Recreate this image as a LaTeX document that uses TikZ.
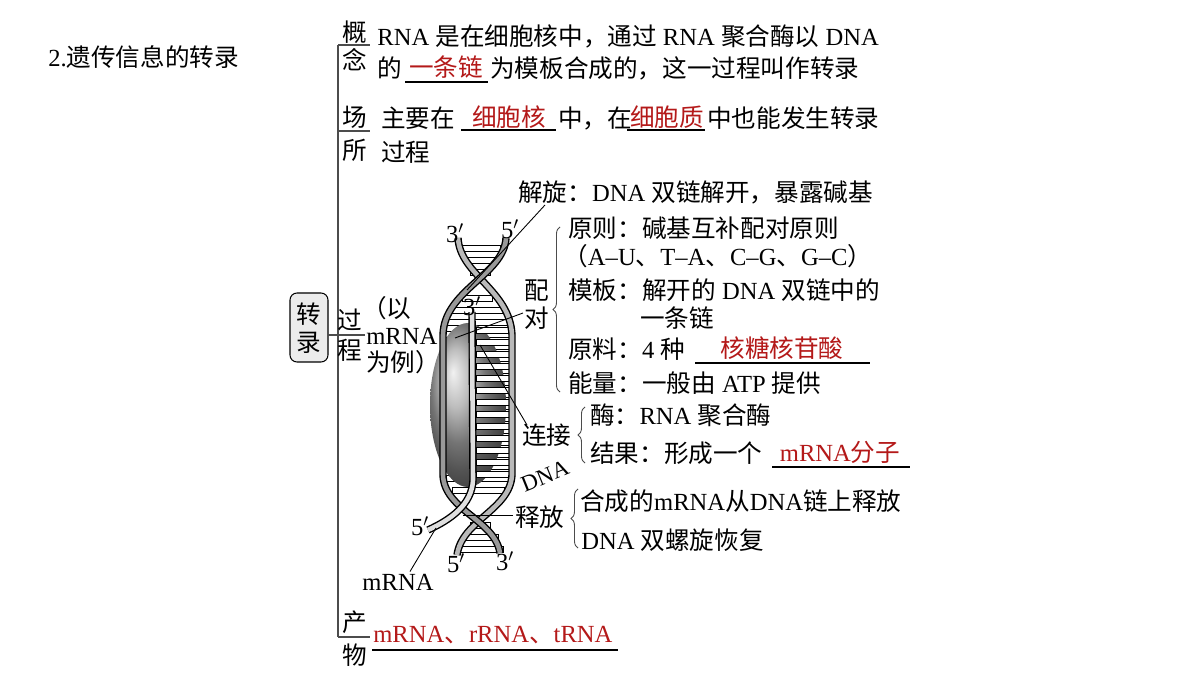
\documentclass[tikz,border=0pt]{standalone}
\usepackage{fontspec}
\setmainfont{Liberation Serif}
\newfontfamily\cjk{Noto Sans CJK SC}
\usetikzlibrary{positioning,decorations.pathreplacing,shadings}
% switch to the CJK font around Chinese characters
\XeTeXinterchartokenstate=1
\newXeTeXintercharclass\cjkclass
\newcount\cc
\cc="3000 \loop \XeTeXcharclass\cc=\cjkclass \advance\cc by 1 \ifnum\cc<"3040 \repeat
\cc="4E00 \loop \XeTeXcharclass\cc=\cjkclass \advance\cc by 1 \ifnum\cc<"A000 \repeat
\cc="FF00 \loop \XeTeXcharclass\cc=\cjkclass \advance\cc by 1 \ifnum\cc<"FFF0 \repeat
\XeTeXinterchartoks 0 \cjkclass = {\cjk}
\XeTeXinterchartoks 4095 \cjkclass = {\cjk}
\XeTeXinterchartoks \cjkclass 0 = {\rmfamily}
\XeTeXinterchartoks \cjkclass 4095 = {\rmfamily}
\definecolor{ansred}{RGB}{180,25,25}
\tikzset{
  txt/.style={anchor=west, inner sep=0pt, font=\fontsize{14pt}{16pt}\selectfont},
  ans/.style={txt, anchor=center, text=ansred},
  blank/.style={line width=0.6pt},
  tree/.style={line width=0.6pt, gray!60!black},
  lead/.style={line width=0.5pt},
  brc/.style={decorate, decoration={brace, amplitude=4pt, mirror}, line width=0.5pt, gray!60!black},
  rung/.style={draw=black, fill=white, line width=0.5pt},
  ribbon/.style={line width=4.2pt, black},
  ribbonin/.style={line width=2.6pt, gray!55}
}
\begin{document}
\begin{tikzpicture}[x=0.02cm, y=-0.02cm]
    \fill[white] (0,0) rectangle (1200,675);
    \node[txt] (title) at (48,57) {2.遗传信息的转录};
    % tree
    \draw[rounded corners=4pt, fill=gray!15, line width=0.6pt] (290,293) rectangle (328,362);
    \node[txt, anchor=center] (zhuan) at (309,314) {转};
    \node[txt, anchor=center] (lu) at (309,343) {录};
    \coordinate (rootR) at (328,335);
    \coordinate (top) at (338,45);
    \coordinate (bot) at (338,637);
    \draw[tree] (top) -- (bot);
    \draw[tree] (top) -- ++(32,0);
    \draw[tree] (338,131) -- ++(32,0);
    \draw[tree] (bot) -- ++(32,0);
    \draw[tree] (rootR) -- (365,335);
    % concept
    \node[txt, anchor=center] (gai) at (355,32) {概};
    \node[txt, anchor=center] (nian) at (355,60) {念};
    \node[txt] (c1) at (377,36) {RNA 是在细胞核中，通过 RNA 聚合酶以 DNA};
    \node[txt] (c2) at (377,68) {的};
    \draw[blank] (405,82) -- (488,82);
    \node[ans] (a1) at (446,67) {一条链};
    \node[txt] (c3) at (490,68) {为模板合成的，这一过程叫作转录};
    % place
    \node[txt, anchor=center] (chang) at (355,117) {场};
    \node[txt, anchor=center] (suo) at (355,150) {所};
    \node[txt] (p1) at (381,118) {主要在};
    \draw[blank] (461,130) -- (556,130);
    \node[ans] (a2) at (509,117) {细胞核};
    \node[txt] (p2) at (558,118) {中，在};
    \draw[blank] (627,130) -- (705,130);
    \node[ans] (a3) at (667,117) {细胞质};
    \node[txt] (p3) at (707,118) {中也能发生转录};
    \node[txt] (p4) at (381,152) {过程};
    % process
    \node[txt, anchor=center] (guo) at (350,320) {过};
    \node[txt, anchor=center] (cheng) at (350,350) {程};
    \node[txt] (e1) at (362,308) {（以};
    \node[txt] (e2) at (366,336) {mRNA};
    \node[txt] (e3) at (366,362) {为例）};
    % DNA picture: rungs
    \foreach \y/\l/\r in {248/462/500, 260/465/496, 272/470/490, 298/462/492, 310/452/505,
      322/445/511, 334/444/512, 346/444/512, 358/444/512, 370/444/512, 382/444/512, 394/444/512,
      406/444/512, 418/444/512, 430/444/512, 442/444/512, 454/444/512, 466/444/512, 478/446/510,
      490/452/504, 525/470/490, 537/462/498, 549/458/503}
      \draw[rung] (\l,\y-3) rectangle (\r,\y+3);
    \shade[ball color=gray!70] (468,405) ellipse (38 and 82);
    \foreach \y in {330,342,...,480}
      \draw[rung] (476,\y-3) rectangle (511,\y+3);
    % strands
    \draw[ribbon] (458,238) .. controls (460,275) and (510,290) .. (512,335) -- (512,475)
          .. controls (510,510) and (462,520) .. (457,555);
    \draw[ribbonin] (458,238) .. controls (460,275) and (510,290) .. (512,335) -- (512,475)
          .. controls (510,510) and (462,520) .. (457,555);
    \draw[ribbon] (506,238) .. controls (504,275) and (444,290) .. (443,335) -- (443,475)
          .. controls (444,510) and (495,520) .. (500,553);
    \draw[ribbonin, gray!80] (506,238) .. controls (504,275) and (444,290) .. (443,335) -- (443,475)
          .. controls (444,510) and (495,520) .. (500,553);
    \draw[ribbon] (472,312) -- (473,480) .. controls (472,505) and (450,520) .. (428,530);
    \draw[ribbonin, gray!25] (472,312) -- (473,480) .. controls (472,505) and (450,520) .. (428,530);
    % picture labels
    \node[txt, anchor=center] (t3) at (455,233) {3$'$};
    \node[txt, anchor=center] (t5) at (510,229) {5$'$};
    \node[txt, anchor=center] (m3) at (472,306) {3$'$};
    \node[txt, anchor=center] (b5l) at (420,526) {5$'$};
    \node[txt, anchor=center] (b5) at (456,563) {5$'$};
    \node[txt, anchor=center] (b3) at (505,561) {3$'$};
    \node[txt, anchor=center] (mrna) at (398,582) {mRNA};
    \node[txt, anchor=center, rotate=22, font=\fontsize{13pt}{15pt}\selectfont] (dna) at (545,476) {DNA};
    \draw[lead] (mrna.north) ++(12,-2) -- (436,528);
    % unwinding
    \node[txt] (jx) at (518,192) {解旋：DNA 双链解开，暴露碱基};
    \draw[lead] (545,205) -- (467,290);
    % pairing
    \node[txt, anchor=center] (pei) at (537,291) {配};
    \node[txt, anchor=center] (dui) at (537,318) {对};
    \draw[lead] (523,313) -- (455,338);
    \draw[brc] (560,227) -- (560,392);
    \node[txt] (r1) at (568,228) {原则：碱基互补配对原则};
    \node[txt] (r2) at (563,256) {（A–U、T–A、C–G、G–C）};
    \node[txt] (r3) at (568,290) {模板：解开的 DNA 双链中的};
    \node[txt] (r4) at (640,318) {一条链};
    \node[txt] (r5) at (568,349) {原料：4 种};
    \draw[blank] (695,363) -- (870,363);
    \node[ans] (a4) at (782,348) {核糖核苷酸};
    \node[txt] (r6) at (568,383) {能量：一般由 ATP 提供};
    % linking
    \node[txt] (lj) at (522,435) {连接};
    \draw[lead] (527,425) -- (480,345);
    \draw[brc] (585,407) -- (585,463);
    \node[txt] (l1) at (590,415) {酶：RNA 聚合酶};
    \node[txt] (l2) at (590,453) {结果：形成一个};
    \draw[blank] (772,467) -- (910,467);
    \node[ans] (a5) at (840,452) {mRNA分子};
    % release
    \node[txt] (sf) at (515,517) {释放};
    \draw[lead] (513,515) -- (463,515);
    \draw[brc] (578,489) -- (578,548);
    \node[txt] (f1) at (580,501) {合成的mRNA从DNA链上释放};
    \node[txt] (f2) at (581,540) {DNA 双螺旋恢复};
    % product
    \node[txt, anchor=center] (chan) at (355,622) {产};
    \node[txt, anchor=center] (wu) at (355,655) {物};
    \node[txt, text=ansred] (a6) at (373,635) {mRNA、rRNA、tRNA};
    \draw[blank] (372,650) -- (618,650);
\end{tikzpicture}
\end{document}
